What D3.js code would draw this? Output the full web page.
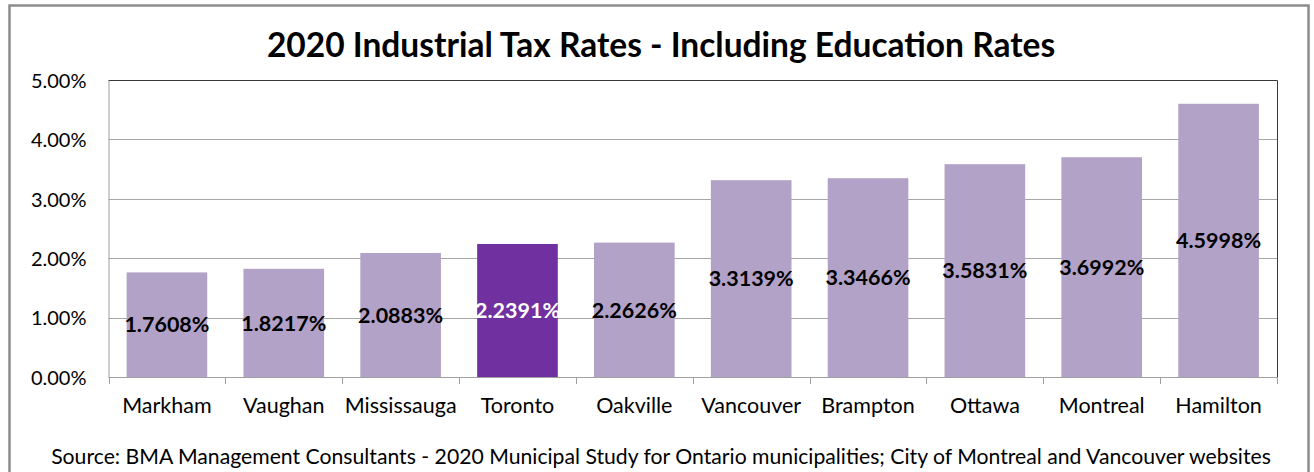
<!DOCTYPE html>
<html>
<head>
<meta charset="utf-8">
<script src="https://cdn.jsdelivr.net/npm/d3@7"></script>
<style>
  html, body { margin: 0; padding: 0; background: #fff; }
  svg { display: block; }
  text { font-family: Lato, "Open Sans", sans-serif; }
</style>
</head>
<body>
<svg id="chart" width="1314" height="472"></svg>
<script>
// Municipalities, ordered from lowest to highest rate
const cities = ["Markham", "Vaughan", "Mississauga", "Toronto", "Oakville",
                "Vancouver", "Brampton", "Ottawa", "Montreal", "Hamilton"];
// 2020 industrial tax rate incl. education, in percent
const rates = [1.7608, 1.8217, 2.0883, 2.2391, 2.2626,
               3.3139, 3.3466, 3.5831, 3.6992, 4.5998];
const yTicks = [0, 1, 2, 3, 4, 5];
const highlightCity = "Toronto";

const titleText = "2020 Industrial Tax Rates - Including Education Rates";
const sourceText = "Source: BMA Management Consultants - 2020 Municipal Study for Ontario municipalities;  City of Montreal and Vancouver websites";

const plot = { left: 108.5, right: 1277, top: 80, bottom: 377 };

const svg = d3.select("#chart");

// outer chart frame
svg.append("rect")
  .attr("x", 9.5).attr("y", 5.5)
  .attr("width", 1299).attr("height", 490)
  .attr("fill", "#fff")
  .attr("stroke", "#8c8c8c")
  .attr("stroke-width", 2.5);

const x = d3.scaleBand()
  .domain(cities)
  .range([plot.left, plot.right])
  .paddingInner(0.31)
  .paddingOuter(0.155);

const y = d3.scaleLinear()
  .domain([0, 5])
  .range([plot.bottom, plot.top]);

const data = cities.map((c, i) => ({ city: c, rate: rates[i] }));

// horizontal gridlines
svg.append("g")
  .selectAll("line")
  .data(yTicks.slice(1))
  .join("line")
  .attr("x1", plot.left).attr("x2", plot.right)
  .attr("y1", d => Math.round(y(d)) + 0.5)
  .attr("y2", d => Math.round(y(d)) + 0.5)
  .attr("stroke", "#a6a6a6")
  .attr("stroke-width", 1);

// plot-area border (top and right edges)
svg.append("path")
  .attr("d", `M${plot.left},${plot.top + 0.5}H${plot.right + 0.5}V${plot.bottom}`)
  .attr("fill", "none")
  .attr("stroke", "#3a3a3a")
  .attr("stroke-width", 1);

// bars
svg.append("g")
  .selectAll("rect")
  .data(data)
  .join("rect")
  .attr("x", d => x(d.city))
  .attr("width", x.bandwidth())
  .attr("y", d => y(d.rate))
  .attr("height", d => y(0) - y(d.rate))
  .attr("fill", d => d.city === highlightCity ? "#7030a0" : "#b3a2c7");

// y axis (labels only, no tick marks)
const yAxis = d3.axisLeft(y)
  .tickValues(yTicks)
  .tickFormat(d => d3.format(".2f")(d) + "%")
  .tickSize(0)
  .tickPadding(22);

const yg = svg.append("g")
  .attr("transform", `translate(${plot.left},0)`)
  .call(yAxis);
yg.select(".domain").attr("stroke", "#a0a0a0").attr("stroke-width", 1);
yg.selectAll("text")
  .attr("fill", "#000")
  .attr("font-size", 20)
  .attr("font-family", "Lato, sans-serif")
  .attr("dy", "0.36em");

// x axis baseline with boundary ticks between categories
const step = x.step();
const boundaries = d3.range(cities.length + 1).map(i => plot.left + i * step);
const xg = svg.append("g");
xg.append("line")
  .attr("x1", plot.left).attr("x2", plot.right)
  .attr("y1", plot.bottom + 0.5).attr("y2", plot.bottom + 0.5)
  .attr("stroke", "#a0a0a0");
xg.selectAll("line.tick")
  .data(boundaries)
  .join("line")
  .attr("class", "tick")
  .attr("x1", d => Math.round(d) + 0.5).attr("x2", d => Math.round(d) + 0.5)
  .attr("y1", plot.bottom).attr("y2", plot.bottom + 7)
  .attr("stroke", "#a0a0a0");

// category labels
xg.selectAll("text")
  .data(cities)
  .join("text")
  .attr("x", d => x(d) + x.bandwidth() / 2)
  .attr("y", 413)
  .attr("text-anchor", "middle")
  .attr("font-size", 21.5)
  .attr("fill", "#000")
  .text(d => d);

// value labels, centred in each bar
svg.append("g")
  .selectAll("text")
  .data(data)
  .join("text")
  .attr("x", d => x(d.city) + x.bandwidth() / 2)
  .attr("y", d => (y(d.rate) + y(0)) / 2)
  .attr("dy", "0.36em")
  .attr("text-anchor", "middle")
  .attr("font-size", 21.5)
  .attr("font-weight", "bold")
  .attr("fill", d => d.city === highlightCity ? "#fff" : "#000")
  .text(d => d3.format(".4f")(d.rate) + "%");

// title
svg.append("text")
  .attr("x", 661)
  .attr("y", 57)
  .attr("text-anchor", "middle")
  .attr("font-size", 33.5)
  .attr("font-weight", "bold")
  .attr("fill", "#000")
  .text(titleText);

// source note
svg.append("text")
  .attr("x", 661)
  .attr("y", 464)
  .attr("text-anchor", "middle")
  .attr("font-size", 21.2)
  .attr("fill", "#000")
  .text(sourceText);
</script>
</body>
</html>
